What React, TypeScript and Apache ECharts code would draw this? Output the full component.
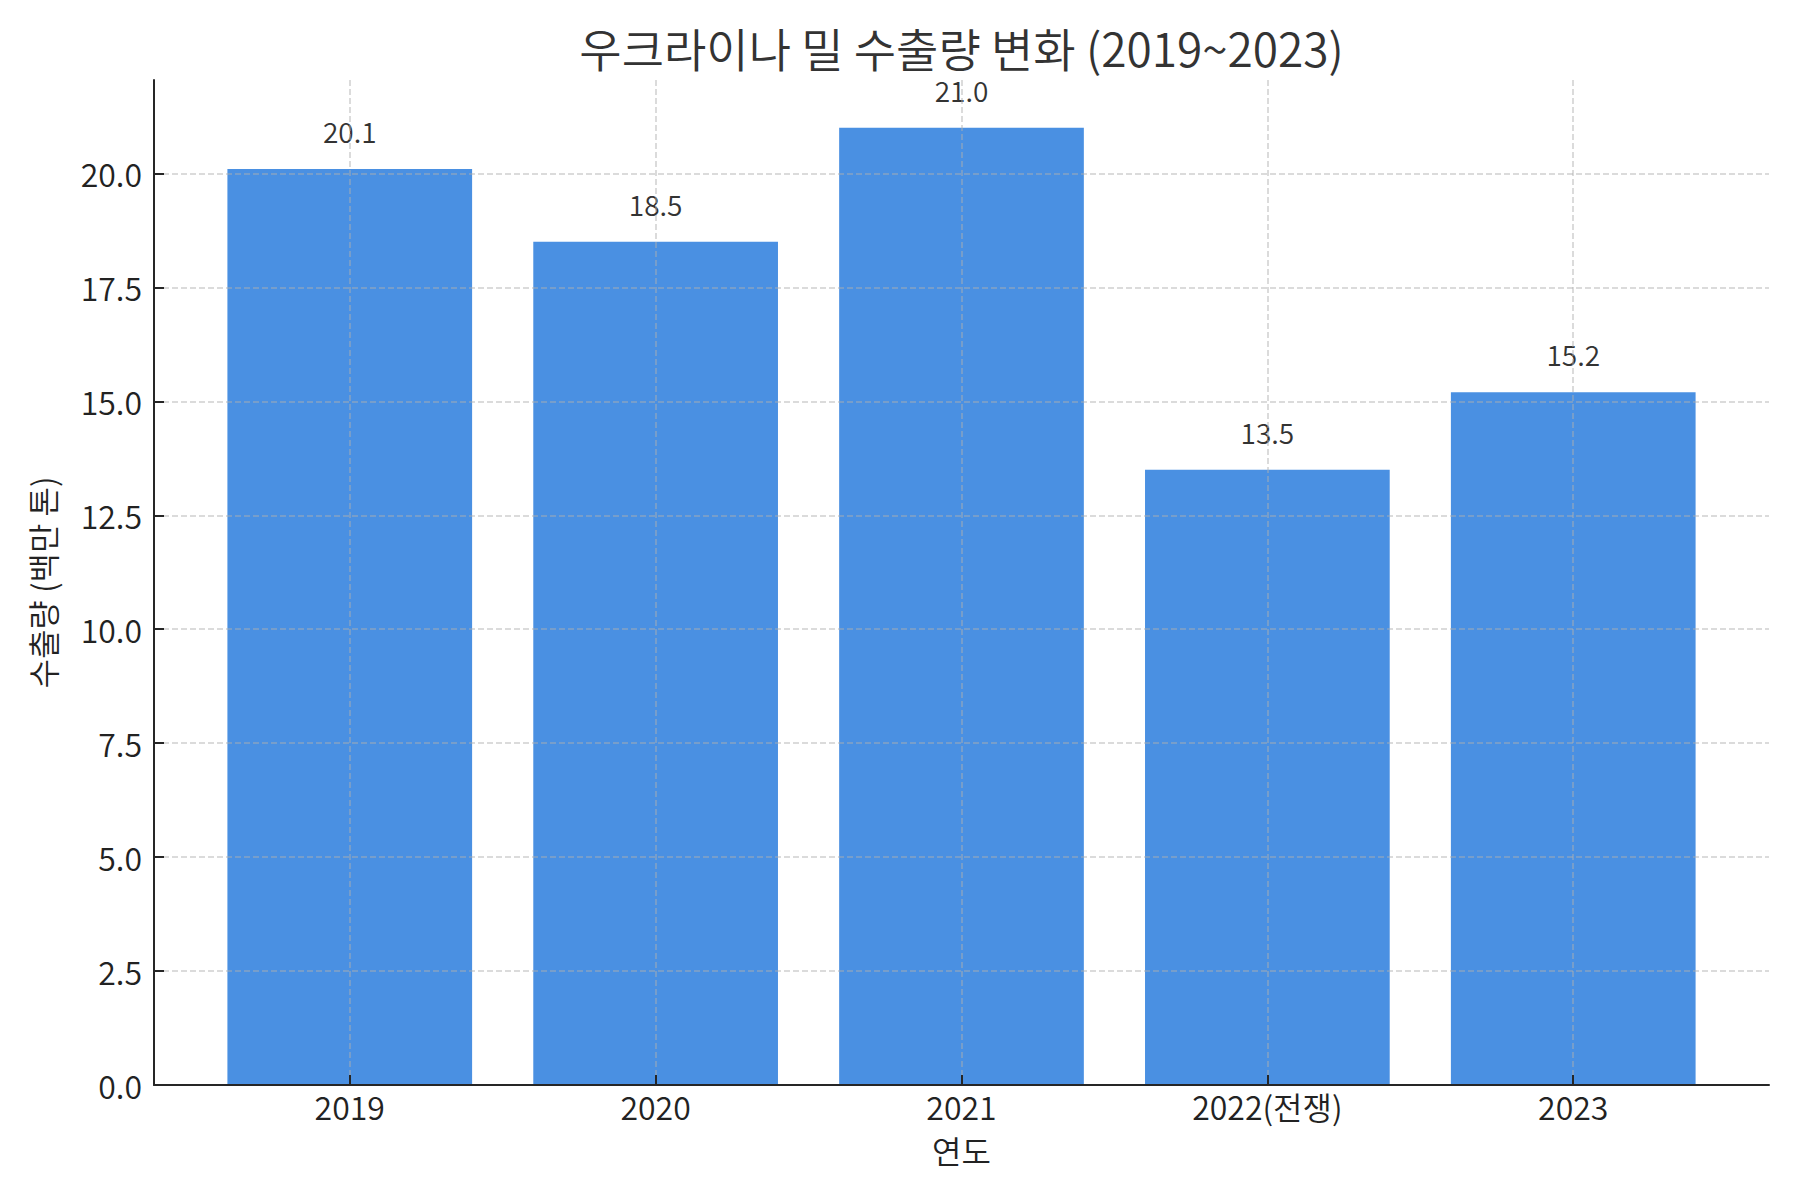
import {useEffect, useRef} from 'react';
import * as echarts from 'echarts';

const years = ['2019', '2020', '2021', '2022(전쟁)', '2023'];
const exports = [20.1, 18.5, 21.0, 13.5, 15.2];
const yTicks = [0, 2.5, 5, 7.5, 10, 12.5, 15, 17.5, 20];

const FONT = 'Noto Sans CJK KR';
const INK = '#262626';
const WEIGHT = 350;

export default function App() {
    const ref = useRef<HTMLDivElement | null>(null);

    useEffect(() => {
        if (!ref.current) return;
        const chart = echarts.init(ref.current, null, {renderer: 'svg'});
        const xIdx = years.map((_, i) => i);
        const grid = {type: 'dashed' as const, color: '#b0b0b0', opacity: 0.6, width: 1.5};
        const txt = {fontFamily: FONT, fontWeight: WEIGHT, color: '#222'};

        chart.setOption({
            animation: false,
            textStyle: {fontFamily: FONT},
            graphic: [{
                type: 'text',
                x: 961.5,
                y: 47,
                style: {
                    text: '우크라이나 밀 수출량 변화 (2019~2023)',
                    font: `${WEIGHT} 46px "${FONT}"`,
                    fill: '#333',
                    lineHeight: 30,
                    textAlign: 'center',
                    textVerticalAlign: 'middle'
                }
            }],
            grid: {left: 154, right: 31, top: 80, bottom: 115},
            xAxis: {
                type: 'value',
                min: -0.64,
                max: years.length - 1 + 0.64,
                z: 3,
                name: '연도',
                nameLocation: 'middle',
                nameGap: 49,
                nameTextStyle: {fontSize: 32, ...txt},
                axisLine: {onZero: false, lineStyle: {color: INK, width: 2}},
                axisTick: {show: true, inside: true, length: 10, customValues: xIdx, lineStyle: {color: INK, width: 2}},
                axisLabel: {
                    customValues: xIdx,
                    margin: 5,
                    fontSize: 32,
                    ...txt,
                    formatter: (v: number) => years[Math.round(v)] ?? ''
                },
                splitLine: {show: true, lineStyle: grid}
            },
            yAxis: {
                type: 'value',
                min: 0,
                max: 22.05,
                z: 3,
                name: '수출량 (백만 톤)',
                nameLocation: 'middle',
                nameGap: 96,
                nameRotate: 90,
                nameTextStyle: {fontSize: 32, ...txt},
                axisLine: {show: true, onZero: false, lineStyle: {color: INK, width: 2}},
                axisTick: {show: true, inside: true, length: 10, customValues: yTicks, lineStyle: {color: INK, width: 2}},
                axisLabel: {
                    customValues: yTicks,
                    margin: 12,
                    fontSize: 32,
                    ...txt,
                    formatter: (v: number) => v.toFixed(1)
                },
                splitLine: {show: true, lineStyle: grid}
            },
            series: [{
                type: 'bar',
                data: exports.map((v, i) => [i, v]),
                barWidth: '80%',
                itemStyle: {color: '#4a90e2'},
                label: {
                    show: true,
                    position: 'top',
                    distance: 24,
                    fontSize: 28,
                    color: '#333',
                    fontFamily: FONT,
                    fontWeight: WEIGHT,
                    formatter: (p: any) => Number(p.value[1]).toFixed(1)
                }
            }]
        });

        return () => chart.dispose();
    }, []);

    return <div ref={ref} style={{position: 'absolute', left: 0, top: 0, width: 1800, height: 1200}}/>;
}
